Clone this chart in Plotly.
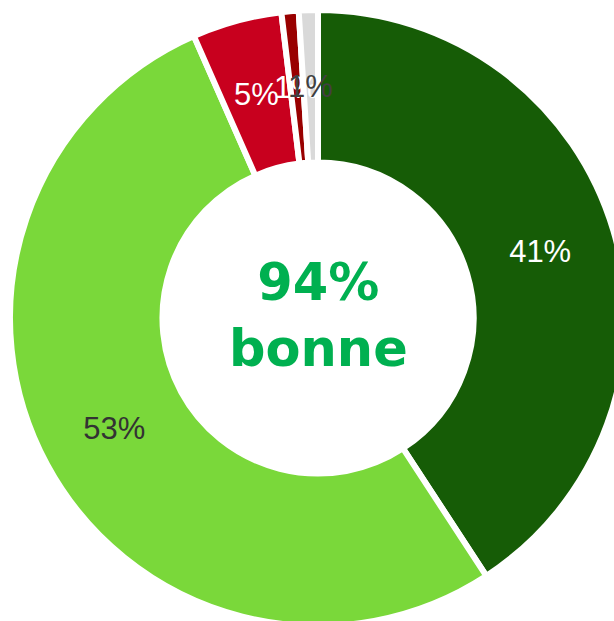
import math
import plotly.graph_objects as go

categories = ["Très bonne", "Bonne", "Mauvaise", "Très mauvaise", "Sans avis"]
values = [40.8, 52.6, 4.7, 0.9, 1.0]
pct_labels = ["41%", "53%", "5%", "1%", "1%"]
slice_colors = ["#165c06", "#7ad83a", "#c8001e", "#990000", "#d9d9d9"]
text_colors = ["#ffffff", "#333333", "#ffffff", "#ffffff", "#404040"]
center_text = "94%<br>bonne"

W, H = 640, 640
L, T, S = 10, 10, 616
HOLE = 0.505
LABEL_FONT = "Liberation Sans, Arial, sans-serif"
LABEL_SIZE = 31
SMALL = 10  # slices below this share get their label placed as annotation

total = sum(values)
pie_text = [t if v / total * 100 >= SMALL else "" for t, v in zip(pct_labels, values)]

fig = go.Figure(go.Pie(
    labels=categories,
    values=values,
    text=pie_text,
    texttemplate="%{text}",
    textinfo="text",
    textposition="inside",
    insidetextorientation="horizontal",
    hole=HOLE,
    sort=False,
    direction="clockwise",
    rotation=0,
    marker=dict(colors=slice_colors, line=dict(color="#ffffff", width=6)),
    textfont=dict(family=LABEL_FONT, size=LABEL_SIZE, color=text_colors),
    showlegend=False,
    hoverinfo="label+percent",
))

annotations = []
# labels for small slices: at the middle of the ring, at the slice's mid angle
rmid = (0.5 + 0.5 * HOLE) / 2
cum = 0.0
for v, t, c in zip(values, pct_labels, text_colors):
    share = v / total
    mid = (cum + share / 2) * 2 * math.pi
    cum += share
    if share * 100 >= SMALL:
        continue
    annotations.append(dict(
        text=t, x=0.5 + rmid * math.sin(mid), y=0.5 + rmid * math.cos(mid),
        xref="paper", yref="paper", xanchor="center", yanchor="middle",
        showarrow=False,
        font=dict(family=LABEL_FONT, size=LABEL_SIZE, color=c),
    ))

annotations.append(dict(
    text="<b>" + center_text + "</b>",
    x=(318.5 - L) / S, y=1 - (315 - T) / S,
    xref="paper", yref="paper", xanchor="center", yanchor="middle",
    showarrow=False,
    font=dict(family="DejaVu Sans, Verdana, sans-serif", size=51, color="#00b050"),
))

fig.update_layout(
    width=W, height=H,
    margin=dict(l=L, t=T, r=W - L - S, b=H - T - S, autoexpand=False),
    paper_bgcolor="#ffffff",
    annotations=annotations,
)

fig.write_html(
    "out.html",
    config={"displayModeBar": False},
    post_script="document.body.style.margin='0';document.body.style.overflow='hidden';",
)
